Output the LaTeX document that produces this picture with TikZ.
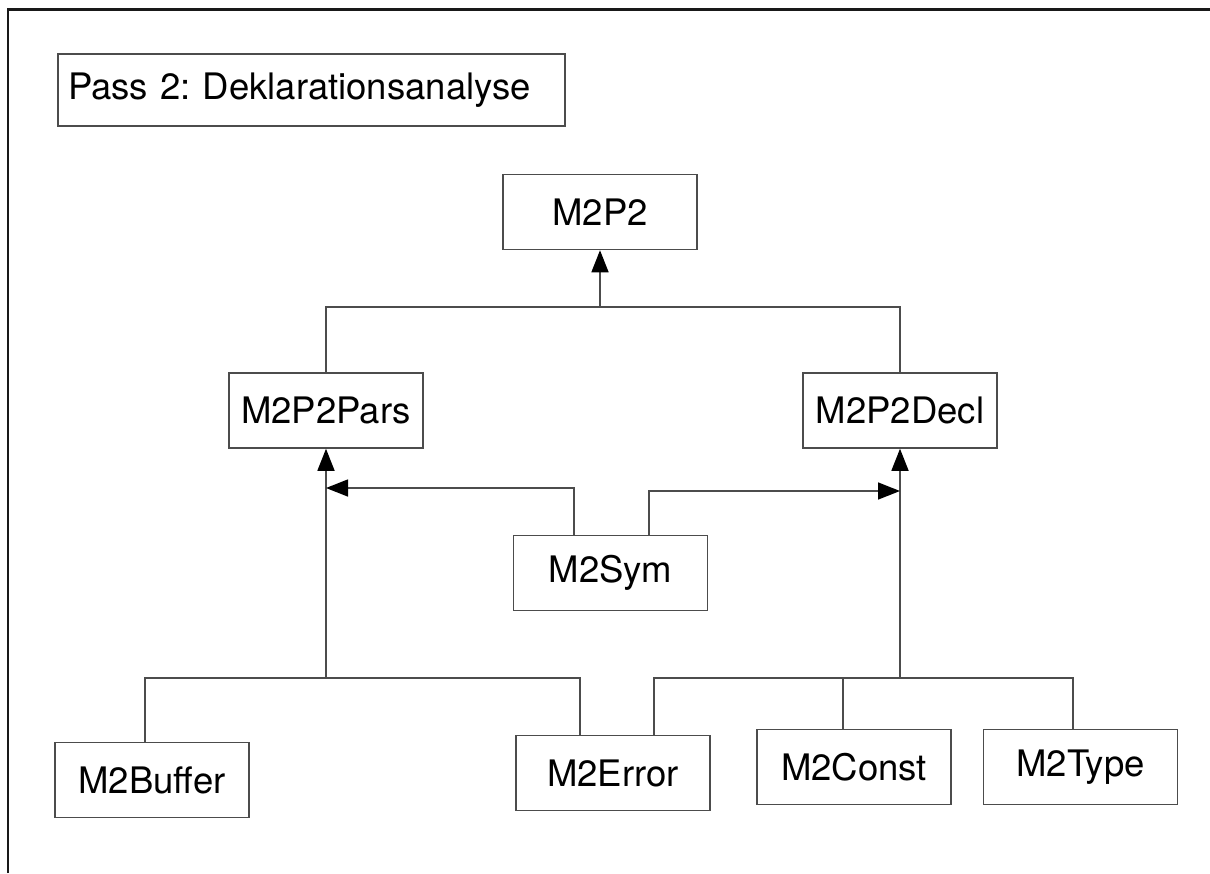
\documentclass[tikz,border=0pt]{standalone}
\usepackage{fontspec}
\setmainfont{TeX Gyre Heros}
\usetikzlibrary{arrows.meta,positioning,calc}

\begin{document}
\frenchspacing
\begin{tikzpicture}[x=1pt, y=-1pt,
  module/.style={rectangle, draw=black!70, line width=1.5pt, fill=white, minimum width=194pt, minimum height=75pt, inner sep=0pt, text=black, font=\fontsize{36.5}{44}\selectfont},
  link/.style={draw=black!70, line width=1.5pt},
  uses/.style={link, -{Triangle[length=22pt, width=17pt, black]}}
]
  \useasboundingbox (0,0) rectangle (1210,873);
  % frame, only top and left edge are visible
  \draw[line width=2.5pt, black!90] (8,873) -- (8,9.5) -- (1210,9.5);
  % title
  \node[module, minimum width=507pt, minimum height=72pt, text width=487pt, align=left] (title) at (311.5,90) {Pass 2: Deklarationsanalyse};
  % modules
  \node[module] (m2p2) at (600,212) {M2P2};
  \node[module] (pars) at (326,410.5) {M2P2Pars};
  \node[module] (decl) at (900,410.5) {M2P2Decl};
  \node[module] (sym) at (610.5,573) {M2Sym};
  \node[module] (buffer) at (152,780) {M2Buffer};
  \node[module] (error) at (613,773) {M2Error};
  \node[module] (const) at (854,767) {M2Const};
  \node[module] (type) at (1080.5,767) {M2Type};
  % junctions
  \coordinate (top) at (600,307);
  \coordinate (parsjoin) at (326,678);
  \coordinate (decljoin) at (900,678);
  \coordinate (symleft) at (326,488);
  \coordinate (symright) at (900,491);
  % M2P2 level
  \draw[link] (pars.north) |- (top) -| (decl.north);
  \draw[uses] (top) -- (m2p2.south);
  % M2P2Pars branch
  \draw[uses] (parsjoin) -- (pars.south);
  \draw[link] ([xshift=-7]buffer.north) |- (parsjoin) -| ([xshift=-33]error.north);
  % M2P2Decl branch
  \draw[uses] (decljoin) -- (decl.south);
  \draw[link] ([xshift=41]error.north) |- (decljoin) -| ([xshift=-7.5]type.north);
  \draw[link] ([xshift=-11]const.north) -- ([xshift=-11]const.north |- decljoin);
  % M2Sym
  \draw[uses] ([xshift=-36.5]sym.north) |- (symleft);
  \draw[uses] ([xshift=38.5]sym.north) |- (symright);
\end{tikzpicture}
\end{document}
